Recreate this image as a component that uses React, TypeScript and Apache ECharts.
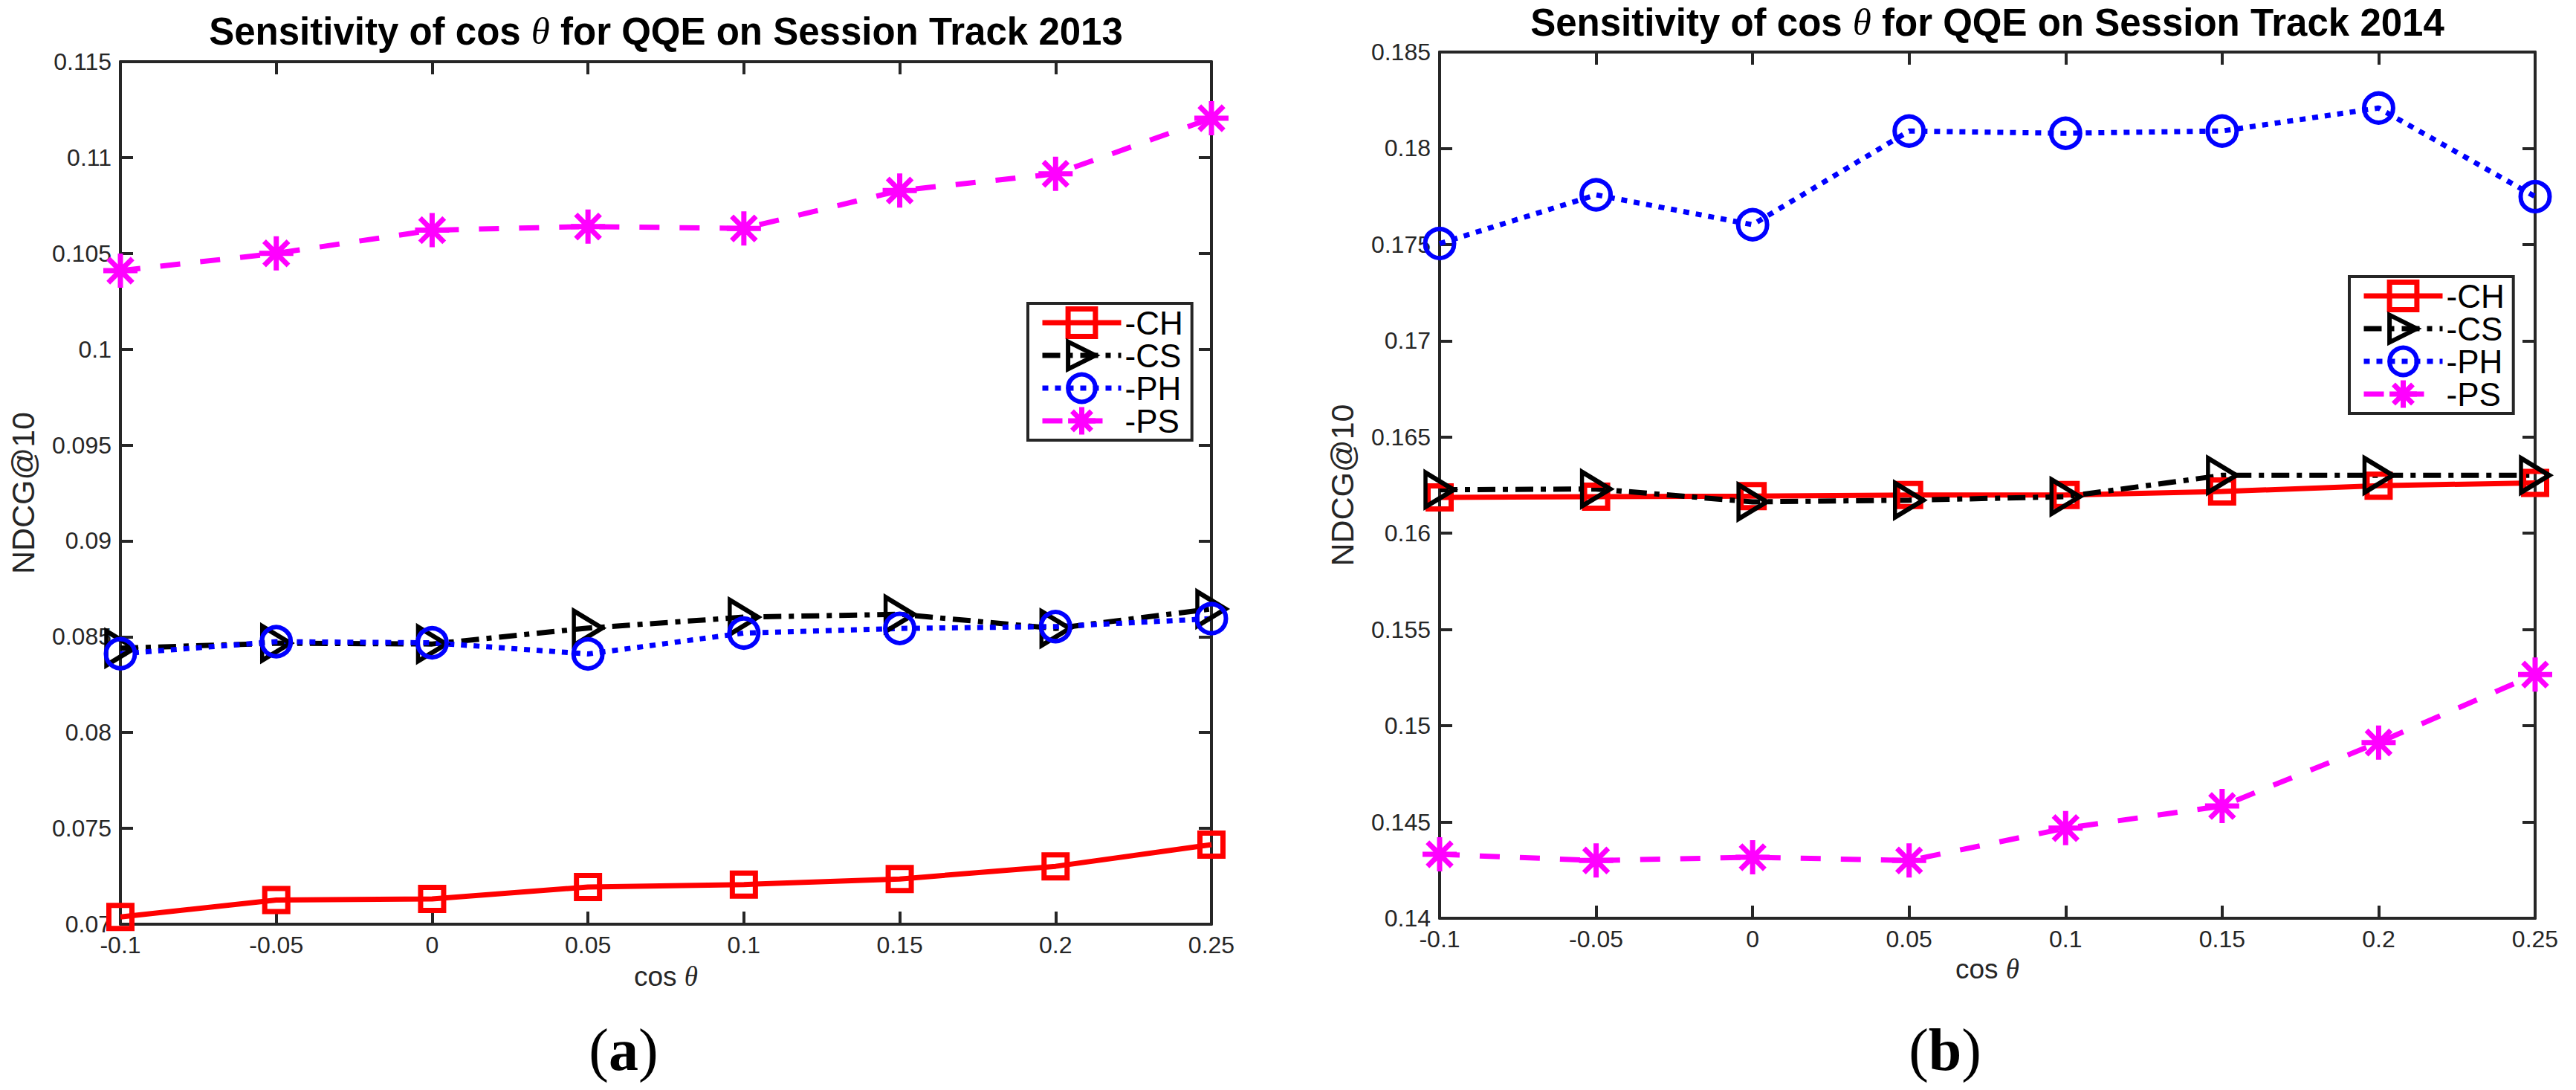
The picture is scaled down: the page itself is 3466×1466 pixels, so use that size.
import * as echarts from "echarts";
import React, { useEffect, useRef } from "react";

// cos θ values on the x axis
const cosLabels = ["-0.1", "-0.05", "0", "0.05", "0.1", "0.15", "0.2", "0.25"];
const seriesNames = ["-CH", "-CS", "-PH", "-PS"];

// Session Track 2013 (NDCG@10)
const ch2013 = [0.07038, 0.07126, 0.07132, 0.07194, 0.07207, 0.07236, 0.07302, 0.07415];
const cs2013 = [0.0844, 0.08466, 0.08462, 0.08545, 0.08602, 0.08617, 0.08543, 0.08645];
const ph2013 = [0.08411, 0.08474, 0.08468, 0.0841, 0.08519, 0.08543, 0.08553, 0.08594];
const ps2013 = [0.1041, 0.105, 0.10621, 0.1064, 0.1063, 0.10828, 0.10915, 0.11205];

// Session Track 2014 (NDCG@10)
const ch2014 = [0.16186, 0.1619, 0.16193, 0.16199, 0.16199, 0.16217, 0.16247, 0.16262];
const cs2014 = [0.16226, 0.1623, 0.16163, 0.16172, 0.1619, 0.16301, 0.16301, 0.16301];
const ph2014 = [0.17505, 0.17758, 0.17603, 0.1809, 0.18078, 0.1809, 0.18209, 0.17749];
const ps2014 = [0.14332, 0.143, 0.14317, 0.143, 0.14468, 0.14583, 0.14913, 0.15266];

const yRange2013 = [0.07, 0.115];
const yRange2014 = [0.14, 0.185];

const AXIS = "#262626";
const SANS = "Liberation Sans";
const SERIF = "Liberation Serif";

const triRight = "path://M0,0L38,23L0,46Z";
const asterisk = "path://M23,0L23,46M0,23L46,23M6.7,6.7L39.3,39.3M6.7,39.3L39.3,6.7";

const styles: Record<string, any> = {
  "-CH": { color: "#ff0000", type: "solid", symbol: "rect", size: 31, bw: 7 },
  "-CS": { color: "#000000", type: [24, 10, 7, 10], symbol: triRight, size: [38, 46], bw: 6 },
  "-PH": { color: "#0000ff", type: [8, 9], symbol: "circle", size: 39, bw: 6 },
  "-PS": { color: "#ff00ff", type: [27, 27], symbol: asterisk, size: 46, bw: 7 },
};

const fmt = (v: number) => String(+v.toFixed(3));

function makeSeries(name: string, data: number[], xi: number, yi: number) {
  const s = styles[name];
  return {
    type: "line",
    name,
    data,
    xAxisIndex: xi,
    yAxisIndex: yi,
    symbol: s.symbol,
    symbolSize: s.size,
    showAllSymbol: true,
    lineStyle: { color: s.color, width: 7, type: s.type },
    itemStyle: { color: "none", borderColor: s.color, borderWidth: s.bw },
    emphasis: { disabled: true },
  };
}

function xAxes(gridIndex: number) {
  return [
    {
      type: "category",
      gridIndex,
      data: cosLabels,
      boundaryGap: false,
      position: "bottom",
      axisLine: { onZero: false, lineStyle: { color: AXIS, width: 4 } },
      axisTick: { inside: true, length: 17, lineStyle: { color: AXIS, width: 4 } },
      axisLabel: { margin: 12, fontSize: 32, fontFamily: SANS, color: AXIS, showMinLabel: true, showMaxLabel: true, interval: 0 },
      splitLine: { show: false },
      name: "cos {t|θ}",
      nameLocation: "middle",
      nameGap: gridIndex === 0 ? 52 : 50,
      nameTextStyle: {
        fontSize: 37,
        fontFamily: SANS,
        color: AXIS,
        rich: { t: { fontSize: 37, fontFamily: SERIF, fontStyle: "italic", color: AXIS } },
      },
    },
    {
      type: "category",
      gridIndex,
      data: cosLabels,
      boundaryGap: false,
      position: "top",
      axisLine: { onZero: false, lineStyle: { color: AXIS, width: 4 } },
      axisTick: { inside: true, length: 17, lineStyle: { color: AXIS, width: 4 } },
      axisLabel: { show: false },
      splitLine: { show: false },
    },
  ];
}

function yAxes(gridIndex: number, range: number[]) {
  const common = {
    type: "value",
    gridIndex,
    min: range[0],
    max: range[1],
    interval: 0.005,
    axisLine: { show: true, onZero: false, lineStyle: { color: AXIS, width: 4 } },
    axisTick: { show: true, inside: true, length: 17, lineStyle: { color: AXIS, width: 4 } },
    splitLine: { show: false },
  };
  return [
    {
      ...common,
      position: "left",
      axisLabel: { margin: 12, fontSize: 32, fontFamily: SANS, color: AXIS, formatter: fmt },
      name: "NDCG@10",
      nameLocation: "middle",
      nameGap: 110,
      nameTextStyle: { fontSize: 43, fontFamily: SANS, color: AXIS },
    },
    { ...common, position: "right", axisLabel: { show: false } },
  ];
}

function legend(left: number, top: number) {
  return {
    data: seriesNames.map((name) => {
      const s = styles[name];
      return {
        name,
        lineStyle: { color: s.color, width: 7, type: s.type },
        itemStyle: { color: "none", borderColor: s.color, borderWidth: s.bw },
      };
    }),
    orient: "vertical",
    left,
    top,
    itemWidth: 106,
    itemHeight: 46,
    itemGap: 0,
    padding: [4, 12, 4, 16],
    backgroundColor: "#ffffff",
    borderColor: AXIS,
    borderWidth: 4,
    borderRadius: 0,
    selectedMode: false,
    textStyle: { fontSize: 44, fontFamily: SANS, color: "#000000" },
  };
}

function titleText(x: number, y: number, year: string) {
  return {
    type: "text",
    x,
    y,
    style: {
      text: `{b|Sensitivity of cos }{t|θ}{b| for QQE on Session Track ${year}}`,
      align: "center",
      verticalAlign: "middle",
      rich: {
        b: { fontSize: 51, fontWeight: "bold", fontFamily: SANS, fill: "#000000" },
        t: { fontSize: 51, fontStyle: "italic", fontFamily: SERIF, fill: "#000000" },
      },
    },
  };
}

function panelLabel(x: number, y: number, letter: string) {
  return {
    type: "text",
    x,
    y,
    style: {
      text: `{p|(}{l|${letter}}{p|)}`,
      align: "center",
      verticalAlign: "middle",
      rich: {
        p: { fontSize: 80, fontFamily: SERIF, fill: "#000000" },
        l: { fontSize: 80, fontFamily: SERIF, fontWeight: "bold", fill: "#000000" },
      },
    },
  };
}

export default function App() {
  const chartRef = useRef<HTMLDivElement>(null);

  useEffect(() => {
    if (!chartRef.current) return;
    const chart = echarts.init(chartRef.current, null, { renderer: "svg" });

    const option = {
      animation: false,
      backgroundColor: "#ffffff",
      grid: [
        { left: 162, top: 83, width: 1468, height: 1160 },
        { left: 1937, top: 70, width: 1474, height: 1165 },
      ],
      xAxis: [...xAxes(0), ...xAxes(1)],
      yAxis: [...yAxes(0, yRange2013), ...yAxes(1, yRange2014)],
      legend: [legend(1383, 408), legend(3161, 372)],
      graphic: [
        titleText(896, 42, "2013"),
        titleText(2674, 30, "2014"),
        panelLabel(839, 1412, "a"),
        panelLabel(2617, 1412, "b"),
      ],
      series: [
        makeSeries("-CH", ch2013, 0, 0),
        makeSeries("-CS", cs2013, 0, 0),
        makeSeries("-PH", ph2013, 0, 0),
        makeSeries("-PS", ps2013, 0, 0),
        makeSeries("-CH", ch2014, 2, 2),
        makeSeries("-CS", cs2014, 2, 2),
        makeSeries("-PH", ph2014, 2, 2),
        makeSeries("-PS", ps2014, 2, 2),
      ],
    };

    chart.setOption(option);
    return () => {
      chart.dispose();
    };
  }, []);

  return (
    <div
      ref={chartRef}
      style={{ position: "absolute", left: 0, top: 0, width: "3466px", height: "1466px", background: "#fff" }}
    ></div>
  );
}
